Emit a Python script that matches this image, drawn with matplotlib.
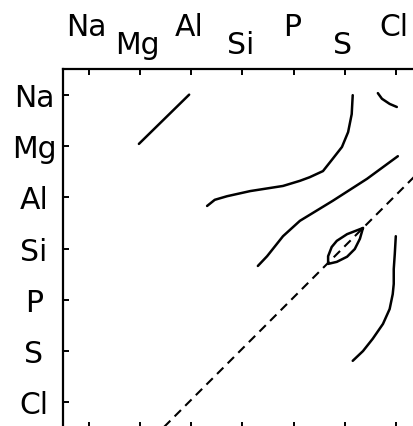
"""Element correlation contour sketch (Na..Cl)."""

import matplotlib

matplotlib.use("Agg")
import matplotlib.pyplot as plt
import matplotlib.transforms as mtransforms

elements = ["Na", "Mg", "Al", "Si", "P", "S", "Cl"]

# contour traces, in element-index units (x: column, y: row, Na = 0)
curve_a_x = [0.98, 1.96]
curve_a_y = [0.96, 0.00]

curve_b_x = [5.15, 5.13, 5.06, 4.94, 4.76, 4.57, 4.31, 4.12, 3.79, 3.15, 2.70, 2.46, 2.31]
curve_b_y = [0.01, 0.38, 0.73, 1.02, 1.25, 1.49, 1.61, 1.68, 1.78, 1.88, 1.98, 2.05, 2.17]

curve_c_x = [6.03, 5.43, 4.76, 4.12, 3.79, 3.48, 3.30]
curve_c_y = [1.20, 1.64, 2.07, 2.46, 2.76, 3.15, 3.34]

curve_d_x = [5.64, 5.72, 5.87, 6.01]
curve_d_y = [-0.03, 0.08, 0.18, 0.24]

lens_x = [5.35, 5.04, 4.84, 4.74, 4.67, 4.67, 4.84, 5.04, 5.19, 5.29, 5.35]
lens_y = [2.60, 2.72, 2.85, 2.97, 3.15, 3.30, 3.26, 3.16, 3.01, 2.81, 2.60]

curve_e_x = [5.99, 5.97, 5.95, 5.95, 5.93, 5.87, 5.74, 5.54, 5.35, 5.15]
curve_e_y = [2.76, 3.11, 3.40, 3.69, 3.89, 4.18, 4.47, 4.76, 5.00, 5.19]

# reference diagonal x + y = const
diag_x = [1.0, 7.0]
diag_y = [6.95, 0.95]

FS = 21.5

fig = plt.figure(figsize=(4.14, 4.27), dpi=100)
ax = fig.add_axes([0.1522, -0.0047, 0.867, 0.8407])

solid = dict(color="black", lw=1.8, solid_capstyle="round", solid_joinstyle="round")
for xs, ys in [
    (curve_a_x, curve_a_y),
    (curve_b_x, curve_b_y),
    (curve_c_x, curve_c_y),
    (curve_d_x, curve_d_y),
    (lens_x, lens_y),
    (curve_e_x, curve_e_y),
]:
    ax.plot(xs, ys, **solid)

ax.plot(diag_x, diag_y, color="black", lw=1.5, dashes=(4.3, 2.9))

n = len(elements)
ax.set_xlim(-0.5, n - 0.5)
ax.set_ylim(n - 0.5, -0.5)

ax.set_xticks(range(n))
ax.set_xticklabels([])
ax.set_yticks(range(n))
ax.set_yticklabels([])
ax.tick_params(axis="both", direction="in", length=4, width=1.4)
ax.tick_params(axis="x", top=True, bottom=True)
for spine in ax.spines.values():
    spine.set_linewidth(1.6)

# staggered column labels above the frame
top_trans = mtransforms.blended_transform_factory(ax.transData, fig.transFigure)
for i, name in enumerate(elements):
    base_px = 36 if i % 2 == 0 else 54
    ax.text(i - 0.04, 1 - base_px / 427, name, transform=top_trans, ha="center",
            va="baseline", fontsize=FS)

# row labels, centred in the left margin
left_trans = mtransforms.blended_transform_factory(fig.transFigure, ax.transData)
for i, name in enumerate(elements):
    ax.text(34 / 414, i + 0.215, name, transform=left_trans, ha="center",
            va="baseline", fontsize=FS)

fig.savefig("out.png", dpi=100)
